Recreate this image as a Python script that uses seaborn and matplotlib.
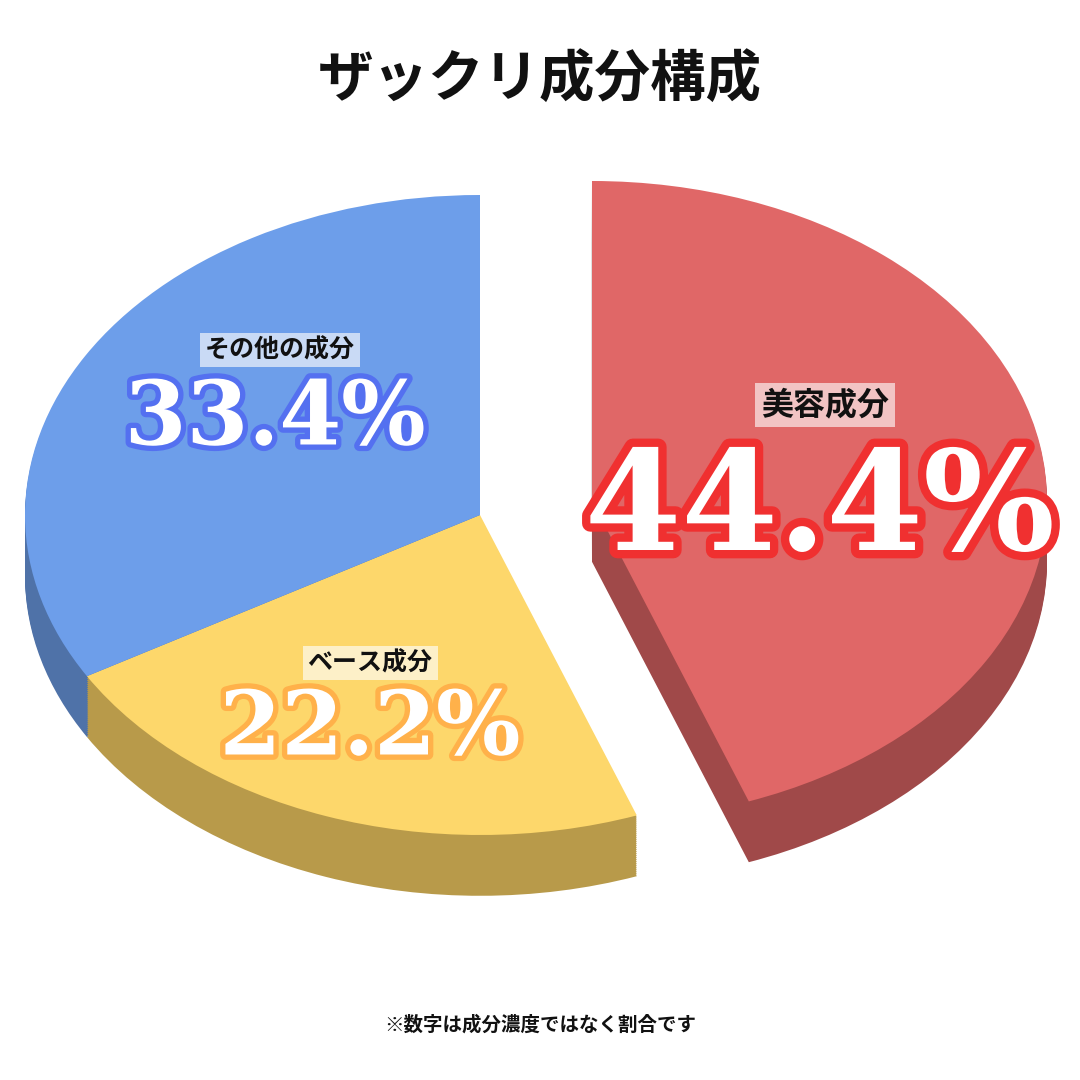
import matplotlib
matplotlib.use("Agg")
import matplotlib.pyplot as plt
import matplotlib.patheffects as pe
import seaborn as sns

labels = ["美容成分", "ベース成分", "その他の成分"]
values = [44.4, 22.2, 33.4]
pct_text = ["44.4%", "22.2%", "33.4%"]
top_colors = ["#E06767", "#FDD76B", "#6D9EEA"]
side_colors = ["#A04949", "#B89A4A", "#4F72A8"]
explode = [0.25, 0, 0]

sns.set_theme(style="white")
plt.rcParams["font.family"] = ["Noto Sans CJK JP", "DejaVu Sans"]

fig = plt.figure(figsize=(10.8, 10.8), dpi=100)
ax = fig.add_axes([0, 0, 1, 1])

# fake 3D: stack darker copies downward for the side wall
depth = 0.19
n = 30
for k in range(n, 0, -1):
    d = depth * k / n
    ax.pie(values, colors=side_colors, startangle=90, counterclock=False,
           explode=explode, center=(0, -d), frame=True,
           wedgeprops=dict(linewidth=0))
ax.pie(values, colors=top_colors, startangle=90, counterclock=False,
       explode=explode, center=(0, 0), frame=True,
       wedgeprops=dict(linewidth=0))

ax.set_aspect("auto")
ax.set_xlim(-480 / 455, 600 / 455)
ax.set_ylim(-565 / 320, 515 / 320)
ax.axis("off")

def px(x, y):
    return x / 1080, 1 - y / 1080

fig.text(*px(540, 80), "ザックリ成分構成", ha="center", va="center",
         fontsize=40, fontweight="bold", color="#111111")

# slice labels
boxes = [
    (825, 405, "#F2C4C4", 23),
    (370, 663, "#FDF0C8", 18),
    (280, 350, "#C9DAF5", 18),
]
nums = [
    (820, 512, "#F03030", 100),
    (370, 730, "#FFB14A", 64),
    (275, 420, "#5470F0", 64),
]
for lab, (bx, by, bc, fs), txt, (nx, ny, nc, nfs) in zip(labels, boxes, pct_text, nums):
    fig.text(*px(bx, by), lab, ha="center", va="center", fontsize=fs,
             fontweight="bold", color="#111111",
             bbox=dict(boxstyle="square,pad=0.2", fc=bc, ec="none"))
    fig.text(*px(nx, ny), txt, ha="center", va="center", fontsize=nfs,
             fontweight="bold", family="DejaVu Serif", color="white",
             path_effects=[pe.withStroke(linewidth=nfs * 0.12, foreground=nc)])

fig.text(*px(540, 1025), "※数字は成分濃度ではなく割合です", ha="center",
         va="center", fontsize=14, fontweight="bold", color="#111111")

fig.savefig("out.png", dpi=100, facecolor="white")
